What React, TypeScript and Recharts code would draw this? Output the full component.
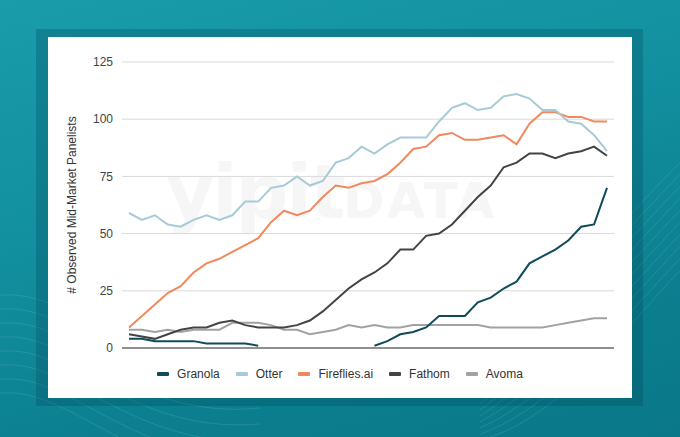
import React from 'react';
import { LineChart, Line, XAxis, YAxis, CartesianGrid, Legend } from 'recharts';

const periods = [
  'P01', 'P02', 'P03', 'P04', 'P05', 'P06', 'P07', 'P08', 'P09', 'P10',
  'P11', 'P12', 'P13', 'P14', 'P15', 'P16', 'P17', 'P18', 'P19', 'P20',
  'P21', 'P22', 'P23', 'P24', 'P25', 'P26', 'P27', 'P28', 'P29', 'P30',
  'P31', 'P32', 'P33', 'P34', 'P35', 'P36', 'P37', 'P38',
];

const granola = [
  4, 4, 3, 3, 3, 3, 2, 2, 2, 2, 1, null, null, null, null, null, null, null, null,
  1, 3, 6, 7, 9, 14, 14, 14, 20, 22, 26, 29, 37, 40, 43, 47, 53, 54, 70,
];
const otter = [
  59, 56, 58, 54, 53, 56, 58, 56, 58, 64, 64, 70, 71, 75, 71, 73, 81, 83, 88,
  85, 89, 92, 92, 92, 99, 105, 107, 104, 105, 110, 111, 109, 104, 104, 99, 98, 93, 86,
];
const fireflies = [
  9, 14, 19, 24, 27, 33, 37, 39, 42, 45, 48, 55, 60, 58, 60, 66, 71, 70, 72,
  73, 76, 81, 87, 88, 93, 94, 91, 91, 92, 93, 89, 98, 103, 103, 101, 101, 99, 99,
];
const fathom = [
  6, 5, 4, 6, 8, 9, 9, 11, 12, 10, 9, 9, 9, 10, 12, 16, 21, 26, 30,
  33, 37, 43, 43, 49, 50, 54, 60, 66, 71, 79, 81, 85, 85, 83, 85, 86, 88, 84,
];
const avoma = [
  8, 8, 7, 8, 7, 8, 8, 8, 11, 11, 11, 10, 8, 8, 6, 7, 8, 10, 9,
  10, 9, 9, 10, 10, 10, 10, 10, 10, 9, 9, 9, 9, 9, 10, 11, 12, 13, 13,
];

const yTicks = [0, 25, 50, 75, 100, 125];

const seriesNames = ['Granola', 'Otter', 'Fireflies.ai', 'Fathom', 'Avoma'];
const seriesColors = ['#0f4b59', '#a7cbd6', '#ee8a5e', '#444444', '#a2a2a2'];
const seriesValues = [granola, otter, fireflies, fathom, avoma];

const data = periods.map((p, i) => {
  const row: Record<string, any> = { period: p };
  seriesNames.forEach((n, k) => {
    row[n] = seriesValues[k][i];
  });
  return row;
});

const FONT = '"Liberation Sans", Arial, Helvetica, sans-serif';

const renderLegend = (props: any) => {
  const payload = [...(props.payload || [])].sort(
    (a: any, b: any) => seriesNames.indexOf(a.value) - seriesNames.indexOf(b.value)
  );
  return (
    <div
      style={{
        display: 'flex',
        justifyContent: 'center',
        alignItems: 'center',
        fontFamily: FONT,
        fontSize: 12,
        color: '#333333',
      }}
    >
      {payload.map((p: any, idx: number) => (
        <div
          key={p.value}
          style={{
            display: 'flex',
            alignItems: 'center',
            marginLeft: idx === 0 ? 0 : 16,
          }}
        >
          <span
            style={{
              display: 'inline-block',
              width: 12,
              height: 4,
              borderRadius: 1,
              background: p.color,
              marginRight: 8,
            }}
          />
          <span>{p.value}</span>
        </div>
      ))}
    </div>
  );
};

export default function App() {
  return (
    <div
      style={{
        position: 'absolute',
        left: 0,
        top: 0,
        width: 680,
        height: 437,
        overflow: 'hidden',
        background: 'linear-gradient(165deg, #1a9caa 0%, #12909f 40%, #0b7f8f 75%, #0a7888 100%)',
        fontFamily: FONT,
      }}
    >
      <svg
        width={680}
        height={437}
        style={{ position: 'absolute', left: 0, top: 0 }}
      >
        {[0, 1, 2, 3, 4, 5, 6, 7].map((k) => (
          <path
            key={'l' + k}
            d={`M -20 ${300 + k * 14} C 60 ${270 + k * 14}, 120 ${380 + k * 14}, 260 ${360 + k * 16}`}
            stroke="rgba(255,255,255,0.10)"
            strokeWidth={1}
            fill="none"
          />
        ))}
        {[0, 1, 2, 3, 4, 5, 6, 7, 8, 9].map((k) => (
          <path
            key={'r' + k}
            d={`M 480 ${440 - k * 6} C 560 ${420 - k * 14}, 620 ${330 - k * 12}, 700 ${250 - k * 12}`}
            stroke="rgba(255,255,255,0.10)"
            strokeWidth={1}
            fill="none"
          />
        ))}
      </svg>
      <div
        style={{
          position: 'absolute',
          left: 36,
          top: 29,
          width: 607,
          height: 377,
          background: 'rgba(0,70,90,0.28)',
        }}
      />
      <div
        style={{
          position: 'absolute',
          left: 48,
          top: 37,
          width: 584,
          height: 361,
          background: '#ffffff',
        }}
      >
        <div
          style={{
            position: 'absolute',
            left: 118,
            top: 118,
            fontFamily: '"DejaVu Sans", sans-serif',
            fontWeight: 700,
            fontSize: 74,
            color: '#f6f6f6',
            letterSpacing: -2,
            lineHeight: 1,
            whiteSpace: 'nowrap',
          }}
        >
          yipit
          <span style={{ fontSize: 50, letterSpacing: 2 }}>DATA</span>
        </div>
        <div style={{ position: 'absolute', left: 0, top: 0 }}>
          <LineChart
            width={584}
            height={361}
            data={data}
            margin={{ top: 25, right: 18, bottom: 49, left: 0 }}
          >
            <CartesianGrid vertical={false} stroke="#d9d9d9" strokeWidth={1} />
            <XAxis
              dataKey="period"
              height={1}
              tick={false}
              tickLine={false}
              axisLine={{ stroke: '#8f8f8f', strokeWidth: 2 }}
              padding={{ left: 7, right: 7 }}
            />
            <YAxis
              width={74}
              domain={[0, 125]}
              ticks={yTicks}
              axisLine={false}
              tickLine={false}
              tickSize={0}
              tickMargin={9}
              tick={{ fill: '#444444', fontSize: 12, fontFamily: FONT }}
              label={{
                value: '# Observed Mid-Market Panelists',
                angle: -90,
                position: 'insideLeft',
                offset: 0,
                dx: 24,
                style: {
                  textAnchor: 'middle',
                  fill: '#333333',
                  fontSize: 12,
                  fontFamily: FONT,
                },
              }}
            />
            <Legend
              verticalAlign="middle"
              align="center"
              content={renderLegend}
              wrapperStyle={{ left: 0, top: 330, width: 584 }}
            />
            {[4, 3, 2, 1, 0].map((k) => (
              <Line
                key={seriesNames[k]}
                type="linear"
                dataKey={seriesNames[k]}
                name={seriesNames[k]}
                stroke={seriesColors[k]}
                strokeWidth={2}
                dot={false}
                activeDot={false}
                isAnimationActive={false}
                connectNulls={false}
              />
            ))}
          </LineChart>
        </div>
      </div>
    </div>
  );
}
